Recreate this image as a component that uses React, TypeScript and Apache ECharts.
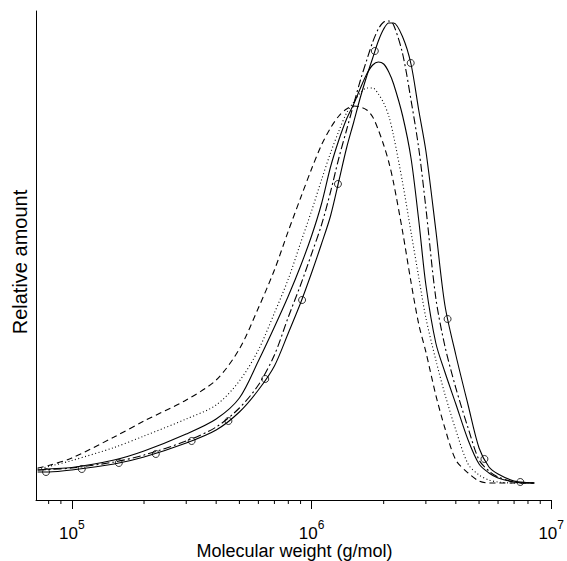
import React, { useEffect, useRef } from 'react';
import * as echarts from 'echarts';

// Molecular weight grid (g/mol) shared by the five distributions
const massGrid = [
  72000, 80000, 100000, 150000, 200000, 300000, 400000, 500000, 600000, 700000, 800000, 900000,
  1000000, 1100000, 1200000, 1300000, 1400000, 1500000, 1600000, 1700000, 1800000, 1900000, 2000000, 2100000, 2200000,
  2400000, 2600000, 2800000, 3000000, 3300000, 3600000, 4000000, 4500000, 5000000, 5500000, 6000000, 7000000, 8000000, 8500000,
];

// Relative amount (arbitrary units)
const dashedAmount = [
  32, 34.5, 42, 63, 79, 100, 120, 151, 192, 230, 269, 302,
  331, 355, 372, 384, 391, 394, 393, 390, 383, 370, 355, 338, 317,
  268, 218, 176, 148, 105, 72, 40, 27, 19, 17, 17, 17, 17, 17,
];
const dottedAmount = [
  31, 33.5, 39.5, 52.5, 64, 81, 95, 119, 150, 187, 221, 257,
  289, 320, 347, 369, 387, 398, 407, 412, 412, 406, 397, 384, 364,
  317, 268, 223, 182, 140, 106, 70, 36, 25, 20, 18, 17, 17, 17,
];
const solidAmount = [
  30, 31, 32.5, 40, 49, 66, 81, 102, 139, 173, 204, 234,
  264, 296, 333, 360, 381, 396, 412, 426, 435, 438, 436, 428, 416,
  384, 342, 280, 215, 157, 128, 96, 60, 36, 27, 22, 18, 17, 17,
];
const dashDotAmount = [
  30, 30.5, 32, 38, 45, 59, 73, 92, 115, 145, 183, 215,
  246, 275, 308, 342, 370, 396, 420, 440, 458, 471, 478, 479, 475,
  446, 400, 352, 292, 202, 154, 112, 72, 40, 29, 23, 18, 17, 17,
];
const circleLineAmount = [
  28, 28, 30, 36, 43, 57, 70, 88, 110, 134, 167, 197,
  227, 256, 284, 319, 352, 378, 403, 424, 442, 459, 471, 477, 477,
  463, 436, 390, 349, 270, 195, 145, 95, 52, 33, 26, 19, 17.5, 17,
];

// Circle markers on the solid line
const markerMass = [78000, 110000, 157000, 224000, 316000, 450000, 641000, 913000, 1289000, 1837000, 2593000, 3695000, 5265000, 7430000];
const markerAmount = [28, 31, 37, 46, 59, 79, 121, 200, 316, 449, 437, 181, 41, 18];

// Axis ticks
const majorTicks = [1e5, 1e6, 1e7];
const minorTicks = [8e4, 9e4, 2e5, 3e5, 4e5, 5e5, 6e5, 7e5, 8e5, 9e5, 2e6, 3e6, 4e6, 5e6, 6e6, 7e6, 8e6, 9e6];

const xTitle = 'Molecular weight (g/mol)';
const yTitle = 'Relative amount';

const FONT = '"Liberation Sans", Arial, Helvetica, sans-serif';

export default function App() {
  const ref = useRef<HTMLDivElement>(null);

  useEffect(() => {
    const chart = echarts.init(ref.current as HTMLDivElement, null, { renderer: 'svg' });
    const pair = (vals: number[]) => massGrid.map((m, i) => [m, vals[i]]);
    const lineSeries = (name: string, vals: number[], type: any) => ({
      type: 'line',
      name,
      data: pair(vals),
      showSymbol: false,
      symbol: 'none',
      smooth: 0.3,
      silent: true,
      lineStyle: { color: '#000', width: 1.1, type },
    });

    chart.setOption({
      animation: false,
      backgroundColor: '#fff',
      textStyle: { fontFamily: FONT },
      grid: { left: 36, right: 14, top: 11, bottom: 61, containLabel: false },
      xAxis: {
        type: 'log',
        logBase: 10,
        min: 70850,
        max: 1e7,
        axisLine: { show: true, onZero: false, lineStyle: { color: '#000', width: 1 } },
        axisTick: { show: true, inside: false, length: 9, customValues: majorTicks, lineStyle: { color: '#000', width: 1 } },
        minorTick: { show: false },
        splitLine: { show: false },
        axisLabel: {
          customValues: majorTicks,
          margin: 19,
          color: '#000',
          formatter: (v: number) => `{b|10}{s|${Math.round(Math.log10(v))}}`,
          rich: {
            b: { fontSize: 17, lineHeight: 28, fontFamily: FONT, color: '#000' },
            s: { fontSize: 12, lineHeight: 8, verticalAlign: 'top', fontFamily: FONT, color: '#000' },
          },
        },
      },
      yAxis: {
        type: 'value',
        min: 0,
        max: 489,
        axisLine: { show: true, lineStyle: { color: '#000', width: 1 } },
        axisTick: { show: false },
        axisLabel: { show: false },
        splitLine: { show: false },
      },
      graphic: [
        {
          type: 'text',
          x: 294.5,
          y: 551,
          style: { text: xTitle, font: `18px ${FONT}`, fill: '#000', align: 'center', verticalAlign: 'middle' },
        },
        {
          type: 'text',
          x: 20,
          y: 262,
          rotation: Math.PI / 2,
          style: { text: yTitle, font: `20px ${FONT}`, fill: '#000', align: 'center', verticalAlign: 'middle' },
        },
      ],
      series: [
        lineSeries('dashed', dashedAmount, [6, 4]),
        lineSeries('dotted', dottedAmount, [1, 2.5]),
        lineSeries('solid', solidAmount, 'solid'),
        lineSeries('dashdot', dashDotAmount, [8, 3, 2, 3]),
        lineSeries('circles', circleLineAmount, 'solid'),
        {
          type: 'scatter',
          name: 'markers',
          data: markerMass.map((m, i) => [m, markerAmount[i]]),
          symbol: 'circle',
          symbolSize: 7,
          silent: true,
          itemStyle: { color: 'rgba(0,0,0,0)', borderColor: '#000', borderWidth: 1 },
        },
        {
          type: 'custom',
          name: 'minorTicks',
          data: minorTicks.map((v) => [v, 0]),
          clip: false,
          silent: true,
          encode: { x: 0, y: 1 },
          renderItem: (params: any, api: any) => {
            const p = api.coord([api.value(0), 0]);
            return {
              type: 'line',
              shape: { x1: p[0], y1: p[1], x2: p[0], y2: p[1] + 4 },
              style: { stroke: '#000', lineWidth: 1 },
            };
          },
        },
      ],
    });

    return () => chart.dispose();
  }, []);

  return (
    <div
      ref={ref}
      style={{ position: 'fixed', left: 0, top: 0, width: 567, height: 561, background: '#fff' }}
    />
  );
}
